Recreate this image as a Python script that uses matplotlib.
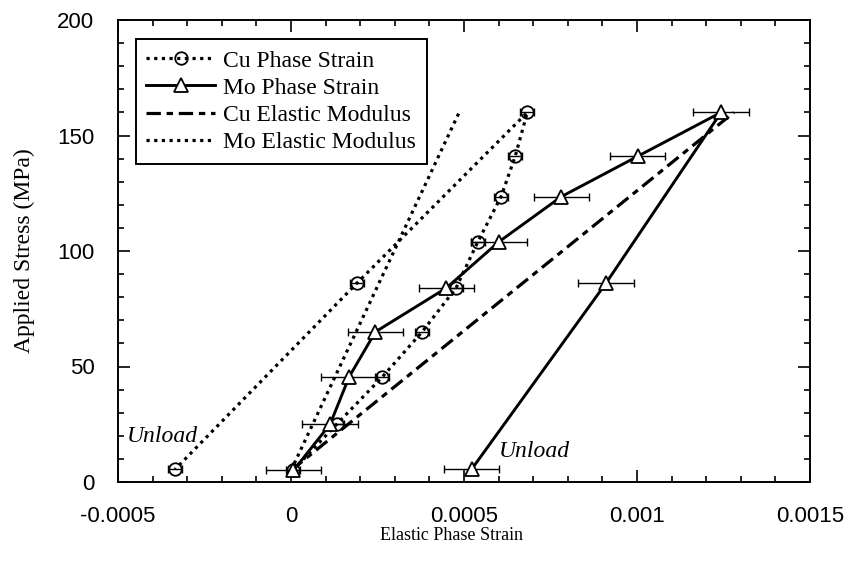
import matplotlib
matplotlib.use('Agg')
import matplotlib.pyplot as plt
from matplotlib.ticker import FixedLocator, MultipleLocator

# --- Data ---
stress_load = [5, 25, 45.5, 65, 84, 104, 123.5, 141, 160]
stress_unload = [86, 5.5]

cu_strain_load = [0.000005, 0.000132, 0.000264, 0.000379, 0.000477, 0.000540, 0.000607, 0.000648, 0.000683]
cu_strain_unload = [0.000190, -0.000335]
cu_err = 0.00002

mo_strain_load = [0.000007, 0.000113, 0.000168, 0.000244, 0.000449, 0.000601, 0.000781, 0.001002, 0.001243]
mo_strain_unload = [0.000910, 0.000522]
mo_err = 0.00008

cu_mod_strain = [0, 0.00128]
cu_mod_stress = [5, 160]
mo_mod_strain = [0, 0.000486]
mo_mod_stress = [5, 160]

x_ticks = [-0.0005, 0, 0.0005, 0.001, 0.0015]
x_labels = ['-0.0005', '0', '0.0005', '0.001', '0.0015']
y_ticks = [0, 50, 100, 150, 200]

SERIF = ['Liberation Serif', 'DejaVu Serif']
SANS = ['Liberation Sans', 'DejaVu Sans']

cu_x = cu_strain_load + cu_strain_unload
mo_x = mo_strain_load + mo_strain_unload
ys = stress_load + stress_unload

# --- Figure ---
fig = plt.figure(figsize=(8.48, 5.73), dpi=100)
ax = fig.add_axes([118/848, 1-482/573, 692/848, 462/573])

dotted = (0, (1, 1.4))
dashdot = (0, (4.5, 1.8, 2, 1.8))

ax.errorbar(cu_x, ys, xerr=cu_err, fmt='none', ecolor='black', elinewidth=1, capsize=3, capthick=1, zorder=2)
ax.plot(cu_x, ys, color='black', linestyle=dotted, lw=2.3, marker='o', ms=9,
        mfc='none', mec='black', mew=1.3, zorder=3, label='Cu Phase Strain')

ax.errorbar(mo_x, ys, xerr=mo_err, fmt='none', ecolor='black', elinewidth=1, capsize=3, capthick=1, zorder=2)
ax.plot(mo_x, ys, color='black', linestyle='-', lw=2.1, marker='^', ms=10,
        mfc='white', mec='black', mew=1.3, zorder=4, label='Mo Phase Strain')

ax.plot(cu_mod_strain, cu_mod_stress, color='black', linestyle=dashdot, lw=2.3, label='Cu Elastic Modulus', zorder=1)
ax.plot(mo_mod_strain, mo_mod_stress, color='black', linestyle=dotted, lw=2.3, label='Mo Elastic Modulus', zorder=1)

ax.text(-0.000474, 17.4, 'Unload', fontsize=17, style='italic', family=SERIF, ha='left', va='baseline')
ax.text(0.000601, 10.8, 'Unload', fontsize=17, style='italic', family=SERIF, ha='left', va='baseline')

# --- Axes ---
ax.set_xlim(-0.0005, 0.0015)
ax.set_ylim(0, 200)
ax.xaxis.set_major_locator(FixedLocator(x_ticks))
ax.set_xticklabels(x_labels)
ax.xaxis.set_minor_locator(MultipleLocator(0.0001))
ax.yaxis.set_major_locator(FixedLocator(y_ticks))
ax.yaxis.set_minor_locator(MultipleLocator(10))
ax.tick_params(which='both', direction='in', top=True, right=True, width=1.2)
ax.tick_params(which='major', length=8.5, pad=17)
ax.tick_params(which='minor', length=4.3)
for lab in ax.get_xticklabels() + ax.get_yticklabels():
    lab.set_family(SANS)
    lab.set_fontsize(16)
for sp in ax.spines.values():
    sp.set_linewidth(1.4)

fig.text(451/848, 1-536/573, 'Elastic Phase Strain', fontsize=13, family=SERIF, ha='center', va='center')
fig.text(24/848, 1-251/573, 'Applied Stress (MPa)', fontsize=17, family=SERIF, ha='center', va='center', rotation=90)

leg = ax.legend(loc='upper left', bbox_to_anchor=(0.0256, 0.958), borderaxespad=0,
                prop={'family': SERIF, 'size': 17}, numpoints=1, handlelength=2.9,
                handletextpad=0.35, labelspacing=0.24, borderpad=0.45, fancybox=False,
                edgecolor='black', framealpha=1)
leg.get_frame().set_linewidth(1.4)

fig.savefig('out.png', dpi=100)
